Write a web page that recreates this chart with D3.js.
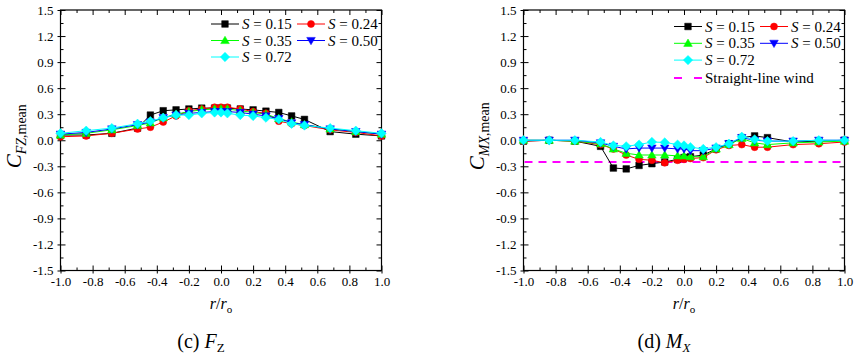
<!DOCTYPE html>
<html><head><meta charset="utf-8">
<script src="https://cdn.jsdelivr.net/npm/d3@7"></script>
<style>
body{margin:0;background:#fff;}
svg{display:block;font-family:"Liberation Serif";}
svg text{font-family:"Liberation Serif" !important;}
</style></head>
<body><svg id="c" width="868" height="357" font-family="Liberation Serif"></svg>
<script>
// ---------- data ----------
const xVals = [-1, -0.84, -0.68, -0.52, -0.44, -0.36, -0.28, -0.2, -0.12, -0.04, 0, 0.04, 0.12, 0.2, 0.28, 0.36, 0.44, 0.52, 0.68, 0.84, 1];
const seriesNames = ["S015", "S024", "S035", "S050", "S072"];
const seriesLabels = ["0.15", "0.24", "0.35", "0.50", "0.72"];

const fzS015 = [0.06, 0.06, 0.08, 0.14, 0.29, 0.34, 0.35, 0.36, 0.37, 0.37, 0.37, 0.37, 0.36, 0.35, 0.335, 0.32, 0.28, 0.24, 0.10, 0.07, 0.05];
const fzS024 = [0.04, 0.05, 0.08, 0.13, 0.15, 0.21, 0.28, 0.34, 0.36, 0.38, 0.38, 0.38, 0.36, 0.33, 0.31, 0.22, 0.19, 0.17, 0.12, 0.09, 0.05];
const fzS035 = [0.06, 0.08, 0.12, 0.17, 0.20, 0.26, 0.30, 0.33, 0.35, 0.36, 0.36, 0.36, 0.34, 0.32, 0.30, 0.25, 0.21, 0.18, 0.13, 0.10, 0.07];
const fzS050 = [0.07, 0.09, 0.13, 0.18, 0.21, 0.26, 0.29, 0.31, 0.32, 0.33, 0.33, 0.33, 0.32, 0.30, 0.28, 0.25, 0.20, 0.18, 0.13, 0.10, 0.07];
const fzS072 = [0.08, 0.11, 0.14, 0.19, 0.22, 0.26, 0.29, 0.29, 0.31, 0.32, 0.32, 0.31, 0.29, 0.28, 0.26, 0.24, 0.19, 0.17, 0.14, 0.11, 0.08];

const mxS015 = [-0.01, 0, -0.01, -0.07, -0.32, -0.33, -0.29, -0.27, -0.25, -0.22, -0.20, -0.19, -0.17, -0.10, -0.04, 0.03, 0.05, 0.03, -0.02, -0.01, 0];
const mxS024 = [-0.01, 0, -0.01, -0.05, -0.10, -0.17, -0.22, -0.23, -0.26, -0.23, -0.22, -0.21, -0.20, -0.11, -0.06, -0.05, -0.08, -0.08, -0.05, -0.04, -0.02];
const mxS035 = [0, 0, -0.01, -0.04, -0.10, -0.15, -0.17, -0.17, -0.17, -0.18, -0.18, -0.19, -0.19, -0.10, -0.05, 0.02, -0.03, -0.05, -0.03, -0.02, -0.01];
const mxS050 = [0, 0, 0, -0.03, -0.07, -0.10, -0.09, -0.09, -0.09, -0.10, -0.10, -0.12, -0.12, -0.09, -0.04, 0.03, 0.00, -0.01, -0.01, 0, 0];
const mxS072 = [0, 0, 0, -0.02, -0.06, -0.07, -0.05, -0.02, -0.025, -0.05, -0.06, -0.08, -0.10, -0.08, -0.04, 0.04, 0.01, -0.01, -0.01, 0, 0];
const straightLineWind = -0.25;

const xTicks = [-1.0, -0.8, -0.6, -0.4, -0.2, 0.0, 0.2, 0.4, 0.6, 0.8, 1.0];
const yTicks = [-1.5, -1.2, -0.9, -0.6, -0.3, 0.0, 0.3, 0.6, 0.9, 1.2, 1.5];

// ---------- styles ----------
const FONT = "Liberation Serif";
const colors = {S015: "#000000", S024: "#ff0000", S035: "#00ff00", S050: "#0000ff", S072: "#00ffff"};
const shapes = {S015: "square", S024: "circle", S035: "triUp", S050: "triDown", S072: "diamond"};

function symPath(shape) {
  switch (shape) {
    case "square": return "M-3.3,-3.3H3.3V3.3H-3.3Z";
    case "circle": return "M3.5,0A3.5,3.5 0 1,1 -3.5,0A3.5,3.5 0 1,1 3.5,0Z";
    case "triUp": return "M0,-4.3L4.3,3.1L-4.3,3.1Z";
    case "triDown": return "M0,4.3L4.3,-3.1L-4.3,-3.1Z";
    case "diamond": return "M0,-4.7L4.7,0L0,4.7L-4.7,0Z";
  }
}

const svg = d3.select("#c");
const fmt = v => (v < 0 ? "-" : "") + Math.abs(v).toFixed(1);

function panel(p) {
  const x = d3.scaleLinear().domain([-1, 1]).range([p.x0, p.x1]);
  const y = d3.scaleLinear().domain([-1.5, 1.5]).range([p.y1, p.y0]);
  const g = svg.append("g").attr("font-family", FONT);
  const minorX = d3.range(-0.9, 1.0, 0.2).map(v => +v.toFixed(2));
  const minorY = d3.range(-1.35, 1.5, 0.3).map(v => +v.toFixed(2));

  g.append("rect").attr("x", p.x0).attr("y", p.y0).attr("width", p.x1 - p.x0).attr("height", p.y1 - p.y0)
    .attr("fill", "none").attr("stroke", "#000").attr("stroke-width", 1.2);

  const axStyle = sel => { sel.attr("font-family", FONT); sel.select(".domain").remove(); sel.selectAll("line").attr("stroke", "#000").attr("stroke-width", 1); };
  const txtStyle = s => s.selectAll("text").attr("font-size", 13).attr("font-family", FONT).attr("fill", "#000");
  // bottom
  g.append("g").attr("transform", `translate(0,${p.y1})`)
    .call(d3.axisBottom(x).tickValues(xTicks).tickFormat(fmt).tickSizeInner(-5).tickSizeOuter(0).tickPadding(6))
    .call(axStyle).call(txtStyle);
  g.append("g").attr("transform", `translate(0,${p.y1})`)
    .call(d3.axisBottom(x).tickValues(xTicks).tickFormat("").tickSizeInner(3).tickSizeOuter(0)).call(axStyle);
  g.append("g").attr("transform", `translate(0,${p.y1})`)
    .call(d3.axisBottom(x).tickValues(minorX).tickFormat("").tickSizeInner(-3).tickSizeOuter(0)).call(axStyle);
  // top
  g.append("g").attr("transform", `translate(0,${p.y0})`)
    .call(d3.axisTop(x).tickValues(xTicks).tickFormat("").tickSizeInner(-5).tickSizeOuter(0)).call(axStyle);
  g.append("g").attr("transform", `translate(0,${p.y0})`)
    .call(d3.axisTop(x).tickValues(minorX).tickFormat("").tickSizeInner(-3).tickSizeOuter(0)).call(axStyle);
  // left
  g.append("g").attr("transform", `translate(${p.x0},0)`)
    .call(d3.axisLeft(y).tickValues(yTicks).tickFormat(fmt).tickSizeInner(3).tickSizeOuter(0).tickPadding(4))
    .call(axStyle).call(txtStyle);
  g.append("g").attr("transform", `translate(${p.x0},0)`)
    .call(d3.axisLeft(y).tickValues(yTicks).tickFormat("").tickSizeInner(-5).tickSizeOuter(0)).call(axStyle);
  g.append("g").attr("transform", `translate(${p.x0},0)`)
    .call(d3.axisLeft(y).tickValues(minorY).tickFormat("").tickSizeInner(-3).tickSizeOuter(0)).call(axStyle);
  // right
  g.append("g").attr("transform", `translate(${p.x1},0)`)
    .call(d3.axisRight(y).tickValues(yTicks).tickFormat("").tickSizeInner(-5).tickSizeOuter(0)).call(axStyle);
  g.append("g").attr("transform", `translate(${p.x1},0)`)
    .call(d3.axisRight(y).tickValues(minorY).tickFormat("").tickSizeInner(-3).tickSizeOuter(0)).call(axStyle);

  if (p.refLine !== undefined) {
    g.append("line").attr("x1", p.x0 + 1).attr("x2", p.x1 - 1).attr("y1", y(p.refLine)).attr("y2", y(p.refLine))
      .attr("stroke", "#ff00ff").attr("stroke-width", 2).attr("stroke-dasharray", "8,6");
  }

  const line = d3.line().x(d => x(d[0])).y(d => y(d[1]));
  seriesNames.forEach(name => {
    const vals = p.data[name];
    const pts = xVals.map((xv, i) => [xv, vals[i]]);
    g.append("path").datum(pts).attr("d", line).attr("fill", "none").attr("stroke", colors[name]).attr("stroke-width", 1);
    g.selectAll(null).data(pts).enter().append("path")
      .attr("d", symPath(shapes[name]))
      .attr("transform", d => `translate(${x(d[0])},${y(d[1])})`)
      .attr("fill", colors[name]).attr("stroke", colors[name]).attr("stroke-width", 0.5);
  });

  const L = p.legend;
  seriesNames.forEach((name, i) => {
    const col = i % 2, row = Math.floor(i / 2);
    const lx = L.x + col * L.colW, ly = L.y + row * L.rowH;
    g.append("line").attr("x1", lx).attr("x2", lx + 28).attr("y1", ly).attr("y2", ly).attr("stroke", colors[name]).attr("stroke-width", 1);
    g.append("path").attr("d", symPath(shapes[name])).attr("transform", `translate(${lx + 14},${ly})`).attr("fill", colors[name]).attr("stroke", colors[name]).attr("stroke-width", 0.5);
    const t = g.append("text").attr("x", lx + 31).attr("y", ly + 5).attr("font-size", 15).attr("font-family", FONT).attr("fill", "#000");
    t.append("tspan").attr("font-style", "italic").text("S");
    t.append("tspan").text(" = " + seriesLabels[i]);
  });
  if (p.refLine !== undefined) {
    const ly = L.y + 3 * L.rowH + 1;
    g.append("line").attr("x1", L.x).attr("x2", L.x + 28).attr("y1", ly).attr("y2", ly)
      .attr("stroke", "#ff00ff").attr("stroke-width", 2).attr("stroke-dasharray", "8,12");
    g.append("text").attr("x", L.x + 31).attr("y", ly + 5).attr("font-size", 15).attr("font-family", FONT).attr("fill", "#000").text("Straight-line wind");
  }

  const yt = g.append("text").attr("transform", `translate(${p.x0 - 40},${(p.y0 + p.y1) / 2 - 4}) rotate(-90)`)
    .attr("text-anchor", "middle").attr("font-family", FONT).attr("fill", "#000");
  yt.append("tspan").attr("font-size", 21).attr("font-style", "italic").text("C");
  yt.append("tspan").attr("font-size", 14).attr("font-style", "italic").attr("dy", 5).text(p.ySubIt);
  yt.append("tspan").attr("font-size", 14).text(",mean");

  const xt = g.append("text").attr("x", (p.x0 + p.x1) / 2).attr("y", p.y1 + 38).attr("text-anchor", "middle").attr("font-family", FONT).attr("fill", "#000");
  xt.append("tspan").attr("font-size", 16).attr("font-style", "italic").text("r");
  xt.append("tspan").attr("font-size", 16).text("/");
  xt.append("tspan").attr("font-size", 16).attr("font-style", "italic").text("r");
  xt.append("tspan").attr("font-size", 11).attr("dy", 4).text("o");

  const ct = g.append("text").attr("x", (p.x0 + p.x1) / 2 - 20).attr("y", p.y1 + 77).attr("text-anchor", "middle").attr("font-family", FONT).attr("fill", "#000");
  ct.append("tspan").attr("font-size", 20).text(p.capPre + " ");
  ct.append("tspan").attr("font-size", 20).attr("font-style", "italic").text(p.capVar);
  ct.append("tspan").attr("font-size", 13).attr("dy", 4).attr("font-style", p.capSubIt ? "italic" : "normal").text(p.capSub);
}

panel({
  x0: 60.5, x1: 381.5, y0: 10, y1: 270.5,
  data: {S015: fzS015, S024: fzS024, S035: fzS035, S050: fzS050, S072: fzS072},
  legend: {x: 211, y: 24, colW: 86, rowH: 16.5},
  ySubIt: "FZ", capPre: "(c)", capVar: "F", capSub: "Z", capSubIt: false
});
panel({
  x0: 523.5, x1: 844.5, y0: 10, y1: 270.5,
  data: {S015: mxS015, S024: mxS024, S035: mxS035, S050: mxS050, S072: mxS072},
  legend: {x: 674, y: 26.5, colW: 86, rowH: 16.8},
  refLine: straightLineWind,
  ySubIt: "MX", capPre: "(d)", capVar: "M", capSub: "X", capSubIt: true
});
</script></body></html>
